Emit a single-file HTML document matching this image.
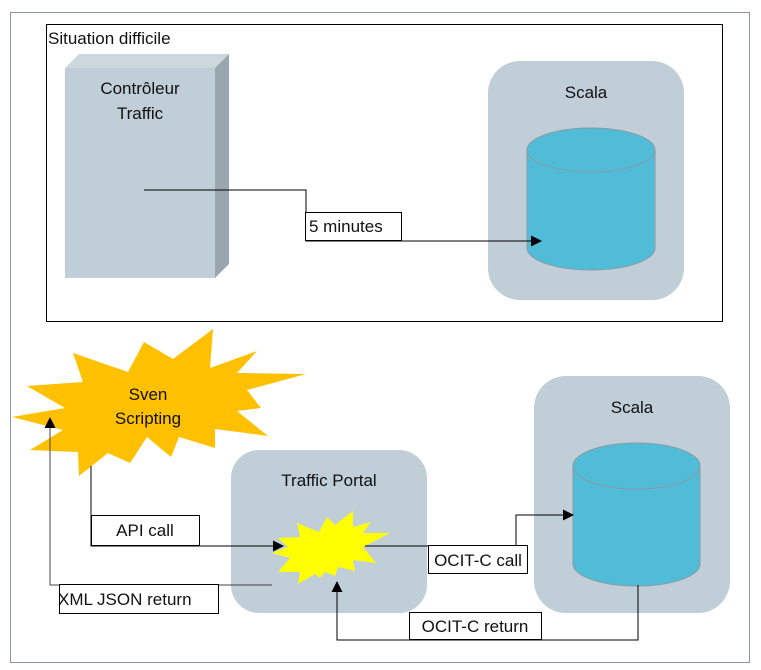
<!DOCTYPE html>
<html><head><meta charset="utf-8"><style>
html,body{margin:0;padding:0;background:#fff;}
svg{display:block;}
text{font-family:"Liberation Sans",sans-serif;font-size:17px;fill:#111;}
</style></head><body>
<svg width="761" height="670" viewBox="0 0 761 670" xmlns="http://www.w3.org/2000/svg">
<defs>
<marker id="ar" markerWidth="11" markerHeight="11" refX="10" refY="5.5" orient="auto" markerUnits="userSpaceOnUse">
<path d="M0,0 L11,5.5 L0,11 z" fill="#000"/></marker>
</defs>
<rect x="10.5" y="12.5" width="739" height="650" fill="#fff" stroke="#8a96a3" stroke-width="1"/>
<rect x="46.5" y="24.5" width="676" height="297" fill="#fff" stroke="#000" stroke-width="1"/>
<text x="48" y="44">Situation difficile</text>

<polygon points="65,68 79,54 229,54 215,68" fill="#ccd7de"/>
<polygon points="215,68 229,54 229,264 215,278" fill="#9aa6ae"/>
<rect x="65" y="68" width="150" height="210" fill="#c0ced8"/>
<text x="140" y="94" text-anchor="middle">Contrôleur</text>
<text x="140" y="119" text-anchor="middle">Traffic</text>

<rect x="488" y="61" width="196" height="239" rx="32" fill="#c0ced8"/>
<text x="586" y="98" text-anchor="middle">Scala</text>
<path d="M527,150 L527,248 A64,22 0 0 0 655,248 L655,150" fill="#50bcd8" stroke="#8a9aa5"/>
<ellipse cx="591" cy="150" rx="64" ry="22" fill="#50bcd8" stroke="#8a9aa5"/>

<polyline points="144,190 306,190 306,241 541,241" fill="none" stroke="#000" marker-end="url(#ar)"/>
<rect x="305.5" y="212.5" width="96" height="28" fill="#fff" stroke="#000"/>
<text x="309" y="232">5 minutes</text>

<polygon points="12,417 65,408 27,386 83,382 73,353 128,372 144,342 173,359 213,329 210,368 257,351 237,373 306,374 247,390 261,408 237,411 268,436 215,429 215,448 179,437 171,457 147,437 130,463 108,453 79,476 78,452 30,450 63,430" fill="#ffc000"/>
<text x="148" y="400" text-anchor="middle">Sven</text>
<text x="148" y="424" text-anchor="middle">Scripting</text>

<rect x="231" y="450" width="196" height="163" rx="28" fill="#c0ced8"/>
<text x="329" y="486" text-anchor="middle">Traffic Portal</text>
<polygon points="297,523 319,532 327,517 335,525 353,511 353,527 371,522 363,533 390,533 363,547 376,563 353,560 355,571 338,567 335,576 325,572 320,578 315,574 298,584 300,572 278,572 290,558 272,553 288,547 278,538 300,537" fill="#ffff00"/>

<rect x="534" y="376" width="196" height="237" rx="32" fill="#c0ced8"/>
<text x="632" y="413" text-anchor="middle">Scala</text>
<path d="M573,466 L573,564 A63.5,22 0 0 0 700,564 L700,466" fill="#50bcd8" stroke="#8a9aa5"/>
<ellipse cx="636.5" cy="466" rx="63.5" ry="23" fill="#50bcd8" stroke="#8a9aa5"/>

<polyline points="91,466 91,546 283,546" fill="none" stroke="#000" marker-end="url(#ar)"/>
<rect x="91.5" y="515.5" width="108" height="30" fill="#fff" stroke="#000"/>
<text x="145" y="536" text-anchor="middle">API call</text>

<polyline points="272,585 50,585 50,418" fill="none" stroke="#444" marker-end="url(#ar)"/>
<rect x="59.5" y="584.5" width="159" height="29" fill="#fff" stroke="#000"/>
<text x="58" y="605">XML JSON return</text>

<polyline points="365,546 516,546 516,515 573,515" fill="none" stroke="#000" marker-end="url(#ar)"/>
<rect x="428.5" y="545.5" width="99" height="28" fill="#fff" stroke="#000"/>
<text x="478" y="566" text-anchor="middle">OCIT-C call</text>

<polyline points="638,585 638,640 337,640 337,582" fill="none" stroke="#000" marker-end="url(#ar)"/>
<rect x="409.5" y="612.5" width="132" height="27" fill="#fff" stroke="#000"/>
<text x="475" y="632" text-anchor="middle">OCIT-C return</text>
</svg>
</body></html>
